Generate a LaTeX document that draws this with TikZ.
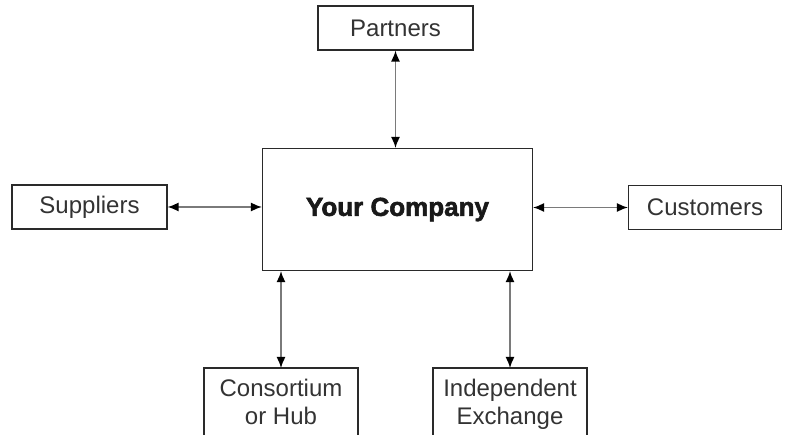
\documentclass[tikz,border=0pt]{standalone}
\usepackage{fontspec}
\setmainfont{Liberation Sans}
\newfontfamily\heavy[FakeBold=2.2]{Liberation Sans Bold}
\usetikzlibrary{arrows.meta}
\definecolor{boxc}{HTML}{2A2A2A}
\definecolor{linec}{HTML}{7A7A7A}
\definecolor{txtc}{HTML}{333333}
\tikzset{
  box/.style={draw=boxc, line width=1.1pt, fill=white, inner sep=0pt,
    font=\fontsize{24}{28}\selectfont, text=txtc},
  lbl/.style={inner sep=0pt, font=\fontsize{24}{28}\selectfont, text=txtc, align=center},
  conn/.style={draw=linec, line width=1.5pt,
    {Latex[length=11pt,width=9pt,fill=black,color=black]}-{Latex[length=11pt,width=9pt,fill=black,color=black]}},
  boxline/.style={draw=boxc, line width=1.1pt}
}
\begin{document}
\begin{tikzpicture}[x=1pt,y=-1pt]
\useasboundingbox (0,0) rectangle (787,435);
\node[box, minimum width=270pt, minimum height=122pt] (comp) at (397.5,209.5)
  {\heavy\fontsize{26}{30}\selectfont\color{black!90}Your Company};
\node[box, minimum width=155pt, minimum height=44pt] (part) at (395.5,28) {Partners};
\node[box, minimum width=155pt, minimum height=44pt] (supp) at (89.5,207) {Suppliers};
\node[box, minimum width=153pt, minimum height=44pt] (cust) at (705,207.5) {Customers};
% bottom boxes (cut off by the page edge)
\coordinate (constop) at (281,368);
\coordinate (indtop) at (510,368);
\draw[boxline] (204,368) rectangle (358,460);
\draw[boxline] (433,368) rectangle (587,460);
\node[lbl, anchor=north] (cons) at (281,379) {Consortium\\or Hub};
\node[lbl, anchor=north] (ind) at (510,379) {Independent\\Exchange};
% connectors
\draw[conn] (part.south) -- (comp.north -| part.south);
\draw[conn] (supp.east) -- (comp.west |- supp.east);
\draw[conn] (cust.west) -- (comp.east |- cust.west);
\draw[conn] (comp.south -| constop) -- (constop);
\draw[conn] (comp.south -| indtop) -- (indtop);
\end{tikzpicture}
\end{document}
